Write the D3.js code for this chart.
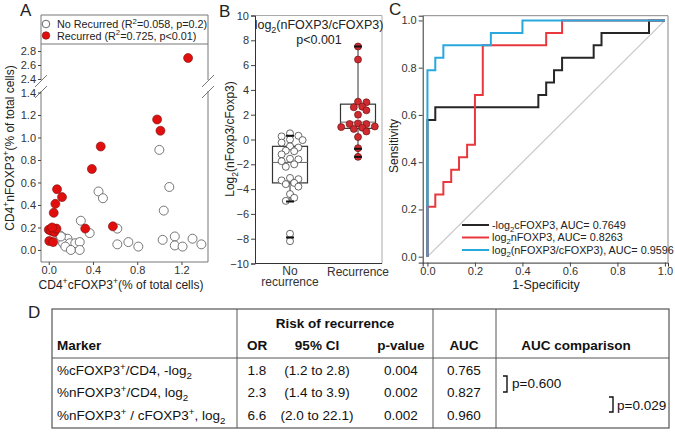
<!DOCTYPE html>
<html>
<head>
<meta charset="utf-8">
<script src="https://cdn.jsdelivr.net/npm/d3@7"></script>
<style>
  body { margin: 0; background: #fff; }
  svg { display: block; font-family: "Liberation Sans", Arial, sans-serif; }
</style>
</head>
<body>
<svg width="675" height="432"></svg>
<script>
// ---- panel A: scatter (x = cFOXP3 %, y = nFOXP3 %)
var noRecurred = [
  [1.0, 0.89], [1.09, 0.56], [1.04, 0.35], [0.45, 0.52], [0.49, 0.46], [0.29, 0.26],
  [0.37, 0.15], [0.62, 0.19], [0.62, 0.05], [0.72, 0.07], [0.81, 0.03], [1.03, 0.09],
  [1.14, 0.12], [1.14, 0.04], [1.21, 0.03], [1.30, 0.10], [1.38, 0.05],
  [0.10, 0.13], [0.13, 0.11], [0.17, 0.10], [0.13, 0.06], [0.19, 0.06], [0.24, 0.06],
  [0.28, 0.07], [0.15, 0.03], [0.20, 0.0], [0.28, 0.0], [0.11, 0.12]
];
var recurred = [
  [0.47, 0.92], [0.39, 0.72], [0.075, 0.54], [0.12, 0.47], [0.06, 0.41], [0.045, 0.33],
  [0.33, 0.19], [0.58, 0.21], [0.98, 1.16], [1.01, 1.06], [1.26, 2.7],
  [0.0, 0.18], [0.02, 0.17], [0.04, 0.19], [0.05, 0.16], [0.07, 0.19], [0.03, 0.2],
  [0.005, 0.08], [0.04, 0.07]
];
var aTicksX = [0.0, 0.4, 0.8, 1.2];
var aTicksLow = [0.0, 0.2, 0.4, 0.6, 0.8, 1.0, 1.2, 1.4];
var aTicksUp = [2.4, 2.6, 2.8];

// ---- panel B: log2(nFOXP3/cFOXP3) by group
var groups = ["No recurrence", "Recurrence"];
var bNoRec = [0.5, 0.3, 0.25, 0.0, -0.05, -0.25, -0.55, -0.65, -0.9, -0.95, -1.2, -1.55,
  -1.6, -1.75, -2.0, -2.2, -3.1, -3.2, -3.3, -3.5, -3.6, -3.8, -4.4, -4.7, -4.95, -7.6, -8.2];
var bRec = [7.5, 6.45, 3.05, 3.0, 2.65, 2.6, 2.35, 2.0, 1.3, 1.25, 1.25, 1.05, 1.0, 0.95,
  0.85, 0.65, 0.2, -0.7, -1.4];
// box: [q1, median, q3], whisker: [low, high], caps drawn as short dashes
var bBoxes = [[-3.5, -1.85, -0.55], [0.9, 1.4, 2.85]];
var bWhiskers = [[-5.0, 0.3], [-1.4, 7.5]];
var bCaps = [[0.3, -5.0, -7.9], [7.5, -0.75, -1.4]];

// ---- panel C: ROC curves
var rocNames = [
  [["-log"], ["2", "sub"], ["cFOXP3, AUC= 0.7649"]],
  [["log"], ["2", "sub"], ["nFOXP3, AUC= 0.8263"]],
  [["log"], ["2", "sub"], ["(nFOXP3/cFOXP3), AUC= 0.9596"]]
];
var rocColors = ["#262626", "#e8383d", "#29a8de"];
var rocFpr = [
  [0, 0, 0.033, 0.467, 0.5, 0.533, 0.567, 0.7, 0.733, 0.933, 1],
  [0, 0, 0.033, 0.067, 0.1, 0.133, 0.167, 0.2, 0.233, 0.5, 0.567, 1],
  [0, 0, 0.033, 0.067, 0.267, 0.4, 1]
];
var rocTpr = [
  [0, 0.579, 0.632, 0.684, 0.737, 0.789, 0.842, 0.895, 0.947, 1, 1],
  [0, 0.211, 0.263, 0.316, 0.368, 0.421, 0.474, 0.684, 0.895, 0.947, 1, 1],
  [0, 0.789, 0.842, 0.895, 0.947, 1, 1]
];
var cTicks = [0, 0.2, 0.4, 0.6, 0.8, 1.0];

// ---- panel D: table
var markers = [
  [["%cFOXP3"], ["+", "sup"], ["/CD4, -log"], ["2", "sub"]],
  [["%nFOXP3"], ["+", "sup"], ["/CD4, log"], ["2", "sub"]],
  [["%nFOXP3"], ["+", "sup"], [" / cFOXP3"], ["+", "sup"], [", log"], ["2", "sub"]]
];
var orVals = ["1.8", "2.3", "6.6"];
var ciVals = ["(1.2 to 2.8)", "(1.4 to 3.9)", "(2.0 to 22.1)"];
var pVals = ["0.004", "0.002", "0.002"];
var aucVals = ["0.765", "0.827", "0.960"];
var aucComp = ["p=0.600", "p=0.029"];

var svg = d3.select("svg");

function rich(sel, parts, size) {
  var cur = 0;
  parts.forEach(function(p) {
    var kind = p[1] || "n";
    var shift = kind == "sup" ? -size * 0.4 : kind == "sub" ? size * 0.3 : 0;
    sel.append("tspan")
      .attr("dy", shift - cur)
      .attr("font-size", kind == "n" ? size : size * 0.72)
      .text(p[0]);
    cur = shift;
  });
  return sel;
}

function letter(x, y, t) {
  svg.append("text").attr("x", x).attr("y", y).attr("font-size", 17).attr("fill", "#222").text(t);
}

function styleAxis(a, dom) {
  if (dom) a.select(".domain").attr("stroke", "#333");
  else a.select(".domain").remove();
  a.selectAll("line").attr("stroke", "#444");
  a.selectAll("text").attr("font-size", 11).attr("fill", "#333").attr("font-family", null);
}

/* ================= A ================= */
var xA = d3.scaleLinear().domain([-0.07, 1.44]).range([41, 208]);
var yLow = d3.scaleLinear().domain([-0.107, 1.44]).range([262, 88]);
var yUp = d3.scaleLinear().domain([2.36, 2.9]).range([81.8, 44]);
function yA(v) { return v > 2 ? yUp(v) : yLow(v); }

var gA = svg.append("g");
// box (broken at left/right)
gA.append("path")
  .attr("d", "M41,80 V15 H208 V80 M208,91 V262 H41 V91")
  .attr("fill", "none").attr("stroke", "#777");
gA.append("line").attr("x1", 41).attr("x2", 208).attr("y1", 44).attr("y2", 44).attr("stroke", "#777");
[41, 208].forEach(function(bx) {
  [0, 11].forEach(function(off) {
    gA.append("line")
      .attr("x1", bx - 6).attr("y1", 87 + off).attr("x2", bx + 6).attr("y2", 75 + off)
      .attr("stroke", "#777");
  });
});

var axLow = gA.append("g").attr("transform", "translate(41,0)")
  .call(d3.axisLeft(yLow).tickValues(aTicksLow).tickSize(3).tickPadding(2).tickFormat(d3.format(".1f")));
var axUp = gA.append("g").attr("transform", "translate(41,0)")
  .call(d3.axisLeft(yUp).tickValues(aTicksUp).tickSize(3).tickPadding(2).tickFormat(d3.format(".1f")));
var axX = gA.append("g").attr("transform", "translate(0,262)")
  .call(d3.axisBottom(xA).tickValues(aTicksX).tickSize(3).tickPadding(1).tickFormat(d3.format(".1f")));
[axLow, axUp, axX].forEach(function(a) { styleAxis(a, false); });

gA.selectAll(".norec").data(noRecurred).enter().append("circle")
  .attr("cx", function(d) { return xA(d[0]); })
  .attr("cy", function(d) { return yA(d[1]); })
  .attr("r", 4.5).attr("fill", "#fff").attr("stroke", "#555").attr("stroke-width", 0.8);
gA.selectAll(".rec").data(recurred).enter().append("circle")
  .attr("cx", function(d) { return xA(d[0]); })
  .attr("cy", function(d) { return yA(d[1]); })
  .attr("r", 4.5).attr("fill", "#e10e0e").attr("stroke", "#7a1010").attr("stroke-width", 0.6);

// legend
gA.append("circle").attr("cx", 46).attr("cy", 24).attr("r", 3.8).attr("fill", "#fff").attr("stroke", "#444").attr("stroke-width", 0.8);
gA.append("circle").attr("cx", 46).attr("cy", 35.5).attr("r", 3.8).attr("fill", "#e10e0e").attr("stroke", "#7a1010").attr("stroke-width", 0.6);
rich(gA.append("text").attr("x", 57).attr("y", 28).attr("fill", "#222"),
  [["No Recurred (R"], ["2", "sup"], ["=0.058, p=0.2)"]], 10.8);
rich(gA.append("text").attr("x", 57).attr("y", 39.5).attr("fill", "#222"),
  [["Recurred (R"], ["2", "sup"], ["=0.725, p<0.01)"]], 10.8);

rich(gA.append("text").attr("text-anchor", "middle").attr("fill", "#222")
  .attr("transform", "translate(14,148) rotate(-90)"),
  [["CD4"], ["+", "sup"], ["nFOXP3"], ["+", "sup"], ["(% of total cells)"]], 12);
rich(gA.append("text").attr("text-anchor", "middle").attr("fill", "#222").attr("x", 121).attr("y", 289),
  [["CD4"], ["+", "sup"], ["cFOXP3"], ["+", "sup"], ["(% of total cells)"]], 12);
letter(20, 16, "A");

/* ================= B ================= */
var yB = d3.scaleLinear().domain([-10, 10]).range([263.5, 15.5]);
var xB = d3.scalePoint().domain(groups).range([290, 358]);
var gB = svg.append("g");

gB.append("path").attr("d", "M255,15.5 H382 V263.5").attr("fill", "none").attr("stroke", "#aaa");
gB.append("line").attr("x1", 255).attr("x2", 382).attr("y1", 263.5).attr("y2", 263.5).attr("stroke", "#333");
var axB = gB.append("g").attr("transform", "translate(255,0)")
  .call(d3.axisLeft(yB).tickValues(d3.range(-10, 11, 2)).tickSize(4).tickPadding(2));
styleAxis(axB, true);

var boxW = 35;
groups.forEach(function(g, i) {
  var cx = xB(g), b = bBoxes[i], w = bWhiskers[i];
  gB.append("line").attr("x1", cx).attr("x2", cx).attr("y1", yB(w[0])).attr("y2", yB(w[1]))
    .attr("stroke", "#333");
  gB.append("rect").attr("x", cx - boxW / 2).attr("width", boxW)
    .attr("y", yB(b[2])).attr("height", yB(b[0]) - yB(b[2]))
    .attr("fill", "#fff").attr("stroke", "#333").attr("stroke-width", 1.2);
  gB.append("line").attr("x1", cx - boxW / 2).attr("x2", cx + boxW / 2)
    .attr("y1", yB(b[1])).attr("y2", yB(b[1])).attr("stroke", "#666");
});

// simple beeswarm so points do not sit on top of each other
function swarm(vals, cx, r) {
  var placed = [];
  vals.slice().sort(function(a, b) { return b - a; }).forEach(function(v) {
    var y = yB(v), k = 0, x;
    while (true) {
      var off = (k % 2 ? 1 : -1) * Math.ceil(k / 2) * r * 1.2;
      x = cx + off;
      var hit = placed.some(function(p) { return Math.hypot(p.x - x, p.y - y) < r * 1.6; });
      if (!hit) break;
      k++;
    }
    placed.push({ x: x, y: y, v: v });
  });
  return placed;
}

var rB = 3.5;
gB.selectAll(".bn").data(swarm(bNoRec, xB(groups[0]), rB)).enter().append("circle")
  .attr("cx", function(d) { return d.x; }).attr("cy", function(d) { return d.y; })
  .attr("r", rB).attr("fill", "#fff").attr("stroke", "#444").attr("stroke-width", 0.8);
gB.selectAll(".br").data(swarm(bRec, xB(groups[1]), rB)).enter().append("circle")
  .attr("cx", function(d) { return d.x; }).attr("cy", function(d) { return d.y; })
  .attr("r", rB).attr("fill", "#cf2a2f").attr("stroke", "#6e1515").attr("stroke-width", 0.7);

groups.forEach(function(g, i) {
  bCaps[i].forEach(function(v) {
    gB.append("line").attr("x1", xB(g) - 4).attr("x2", xB(g) + 4)
      .attr("y1", yB(v)).attr("y2", yB(v)).attr("stroke", "#111").attr("stroke-width", 2);
  });
});

gB.append("text").attr("x", xB(groups[0])).attr("y", 274.5).attr("text-anchor", "middle")
  .attr("font-size", 12).attr("fill", "#333").text("No");
gB.append("text").attr("x", xB(groups[0])).attr("y", 285.5).attr("text-anchor", "middle")
  .attr("font-size", 12).attr("fill", "#333").text("recurrence");
gB.append("text").attr("x", xB(groups[1])).attr("y", 276).attr("text-anchor", "middle")
  .attr("font-size", 12).attr("fill", "#333").text("Recurrence");

rich(gB.append("text").attr("x", 319).attr("y", 29).attr("text-anchor", "middle").attr("fill", "#222"),
  [["log"], ["2", "sub"], ["(nFOXP3/cFOXP3)"]], 12.5);
gB.append("text").attr("x", 319).attr("y", 44).attr("text-anchor", "middle")
  .attr("font-size", 12.5).attr("fill", "#222").text("p<0.001");
rich(gB.append("text").attr("text-anchor", "middle").attr("fill", "#222")
  .attr("transform", "translate(234,139) rotate(-90)"),
  [["Log"], ["2", "sub"], ["(nFoxp3/cFoxp3)"]], 12);
letter(219, 17, "B");

/* ================= C ================= */
var xC = d3.scaleLinear().domain([-0.02, 1.013]).range([422.7, 668]);
var yC = d3.scaleLinear().domain([-0.025, 1.02]).range([262.6, 15.7]);
var gC = svg.append("g");

gC.append("path").attr("d", "M422.7,15.7 H668 V262.6").attr("fill", "none").attr("stroke", "#888");
gC.append("line").attr("x1", xC(0)).attr("y1", yC(0)).attr("x2", xC(1)).attr("y2", yC(1))
  .attr("stroke", "#c8c8c8").attr("stroke-width", 1.2);

var axCx = gC.append("g").attr("transform", "translate(0,262.6)")
  .call(d3.axisBottom(xC).tickValues(cTicks).tickSize(4).tickPadding(1).tickFormat(d3.format(".1f")));
var axCy = gC.append("g").attr("transform", "translate(422.7,0)")
  .call(d3.axisLeft(yC).tickValues(cTicks).tickSize(4).tickPadding(2).tickFormat(d3.format(".1f")));
[axCx, axCy].forEach(function(a) { styleAxis(a, true); });

var rocLine = d3.line()
  .x(function(d) { return xC(d[0]); })
  .y(function(d) { return yC(d[1]); })
  .curve(d3.curveStepAfter);
rocFpr.forEach(function(f, i) {
  var pts = f.map(function(x, j) { return [x, rocTpr[i][j]]; });
  gC.append("path").attr("d", rocLine(pts)).attr("fill", "none")
    .attr("stroke", rocColors[i]).attr("stroke-width", 2);
});

rocNames.forEach(function(n, i) {
  var ly = 225 + i * 12.5;
  gC.append("line").attr("x1", 462).attr("x2", 489).attr("y1", ly).attr("y2", ly)
    .attr("stroke", rocColors[i]).attr("stroke-width", 2);
  rich(gC.append("text").attr("x", 492).attr("y", ly + 3.5).attr("fill", "#222"), n, 10.8);
});

gC.append("text").attr("text-anchor", "middle").attr("font-size", 12).attr("fill", "#222")
  .attr("transform", "translate(398,146) rotate(-90)").text("Sensitivity");
gC.append("text").attr("x", 546).attr("y", 289).attr("text-anchor", "middle")
  .attr("font-size", 12.5).attr("fill", "#222").text("1-Specificity");
letter(389, 15, "C");

/* ================= D ================= */
var gD = svg.append("g").attr("fill", "#111");
var tL = 52, tR = 669, tT = 309, tB = 428, tH = 358;
var vLines = [237, 433, 496];
gD.append("rect").attr("x", tL).attr("y", tT).attr("width", tR - tL).attr("height", tB - tT)
  .attr("fill", "none").attr("stroke", "#555").attr("stroke-width", 1.2);
gD.append("line").attr("x1", tL).attr("x2", tR).attr("y1", tH).attr("y2", tH).attr("stroke", "#555");
vLines.forEach(function(x) {
  gD.append("line").attr("x1", x).attr("x2", x).attr("y1", tT).attr("y2", tB).attr("stroke", "#555");
});

var colX = [257, 317, 401, 464];
var fs = 13.5;
function cell(x, y, t, anchor, bold) {
  return gD.append("text").attr("x", x).attr("y", y).attr("text-anchor", anchor || "middle")
    .attr("font-size", fs).attr("font-weight", bold ? "bold" : null).text(t);
}
cell(335, 328, "Risk of recurrence", "middle", true);
cell(57, 350, "Marker", "start", true);
cell(colX[0], 350, "OR", "middle", true);
cell(colX[1], 350, "95% CI", "middle", true);
cell(colX[2], 350, "p-value", "middle", true);
cell(colX[3], 350, "AUC", "middle", true);
cell(576, 350, "AUC comparison", "middle", true);

var rowY = [375, 397, 420];
markers.forEach(function(m, i) {
  rich(gD.append("text").attr("x", 57).attr("y", rowY[i]), m, fs);
  cell(colX[0], rowY[i], orVals[i]);
  cell(colX[1], rowY[i], ciVals[i]);
  cell(colX[2], rowY[i], pVals[i]);
  cell(colX[3], rowY[i], aucVals[i]);
});

// brackets for AUC comparisons
[[503, 376, 392, 512, 388], [609, 397, 412, 617, 410]].forEach(function(b, i) {
  gD.append("path").attr("d", "M" + b[0] + "," + b[1] + " H" + (b[0] + 4) + " V" + b[2] + " H" + b[0])
    .attr("fill", "none").attr("stroke", "#111").attr("stroke-width", 1.4);
  cell(b[3], b[4], aucComp[i], "start");
});
letter(28, 318, "D");
</script>
</body>
</html>
